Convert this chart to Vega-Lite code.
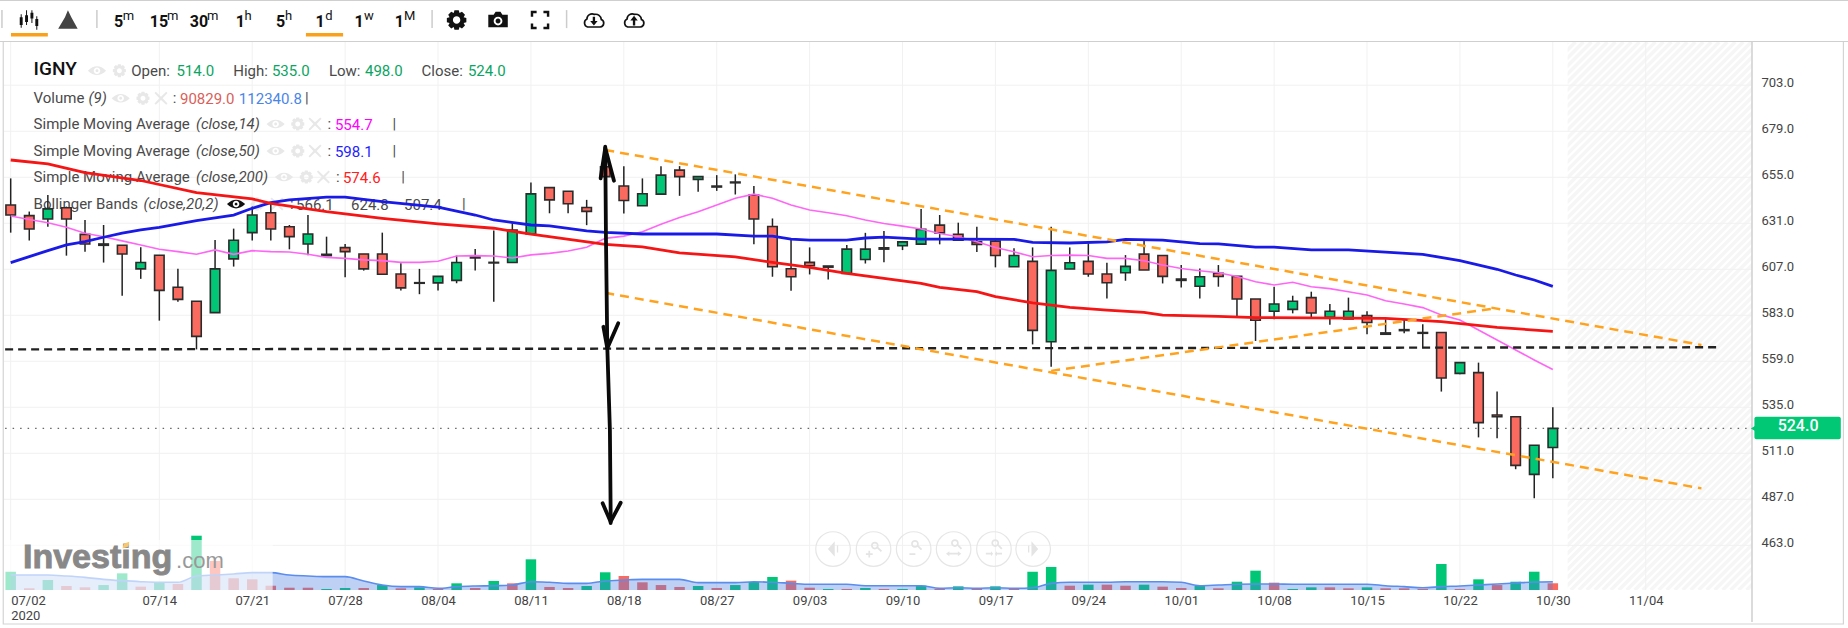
{
  "$schema": "https://vega.github.io/schema/vega-lite/v6.json",
  "width": 1748,
  "height": 548,
  "autosize": {"type": "none"},
  "padding": {"left": 4, "top": 42, "right": 96, "bottom": 38},
  "background": "#ffffff",
  "config": {
    "view": {"stroke": null},
    "legend": {"disable": true},
    "text": {"font": "Roboto"}
  },
  "resolve": {"scale": {"y": "independent"}},
  "datasets": {
    "candles": [
      {"i":0,"o":640.5,"h":654.4,"l":626.1,"c":635.3,"dir":"down"},
      {"i":1,"o":635,"h":637.1,"l":622,"c":628,"dir":"down"},
      {"i":2,"o":633.2,"h":645.8,"l":629.2,"c":638.5,"dir":"up"},
      {"i":3,"o":639.1,"h":639.7,"l":614.1,"c":633.2,"dir":"down"},
      {"i":4,"o":625.2,"h":632.7,"l":616.2,"c":620.2,"dir":"down"},
      {"i":5,"o":620.2,"h":630.1,"l":610.5,"c":619.5,"dir":"down"},
      {"i":6,"o":619.5,"h":619.5,"l":593.2,"c":615,"dir":"down"},
      {"i":7,"o":607.2,"h":618.5,"l":602,"c":610.5,"dir":"up"},
      {"i":8,"o":614.3,"h":614.3,"l":580.2,"c":596,"dir":"down"},
      {"i":9,"o":597.6,"h":607.3,"l":590,"c":591.3,"dir":"down"},
      {"i":10,"o":590.3,"h":590.3,"l":565.2,"c":572,"dir":"down"},
      {"i":11,"o":584.4,"h":622.3,"l":584.4,"c":607.2,"dir":"up"},
      {"i":12,"o":612.4,"h":628.2,"l":608.4,"c":622.1,"dir":"up"},
      {"i":13,"o":626.1,"h":639.7,"l":622,"c":635.3,"dir":"up"},
      {"i":14,"o":636.5,"h":641.4,"l":622,"c":628,"dir":"down"},
      {"i":15,"o":629.2,"h":630.1,"l":617.4,"c":624,"dir":"down"},
      {"i":16,"o":620.2,"h":635.3,"l":614.3,"c":625.4,"dir":"up"},
      {"i":17,"o":614.8,"h":624,"l":614.1,"c":614.1,"dir":"down"},
      {"i":18,"o":618.3,"h":620.2,"l":602.8,"c":616.2,"dir":"down"},
      {"i":19,"o":615,"h":615,"l":606.3,"c":607.2,"dir":"down"},
      {"i":20,"o":615,"h":626.1,"l":604.4,"c":604.4,"dir":"down"},
      {"i":21,"o":604.5,"h":610.1,"l":595.9,"c":597.3,"dir":"down"},
      {"i":22,"o":600,"h":607.2,"l":594,"c":599.7,"dir":"down"},
      {"i":23,"o":599.9,"h":603.5,"l":595.9,"c":603.3,"dir":"up"},
      {"i":24,"o":601.2,"h":614.1,"l":599.7,"c":610.5,"dir":"up"},
      {"i":25,"o":613.4,"h":617.6,"l":606.3,"c":612.9,"dir":"down"},
      {"i":26,"o":610.6,"h":627.2,"l":590,"c":610.3,"dir":"down"},
      {"i":27,"o":610.5,"h":631,"l":610.5,"c":627.5,"dir":"up"},
      {"i":28,"o":625.4,"h":652.2,"l":625.4,"c":646.3,"dir":"up"},
      {"i":29,"o":649.6,"h":649.6,"l":636.2,"c":643.2,"dir":"down"},
      {"i":30,"o":647.7,"h":647.8,"l":636.2,"c":641.2,"dir":"down"},
      {"i":31,"o":639.2,"h":643.2,"l":630,"c":637.2,"dir":"down"},
      {"i":32,"o":660.5,"h":662.2,"l":652.7,"c":655.3,"dir":"down"},
      {"i":33,"o":650.4,"h":660.8,"l":636.1,"c":642.9,"dir":"down"},
      {"i":34,"o":640.1,"h":654.4,"l":640.1,"c":646.4,"dir":"up"},
      {"i":35,"o":646.2,"h":660.8,"l":646.2,"c":656.1,"dir":"up"},
      {"i":36,"o":658.7,"h":660.8,"l":645.3,"c":655.3,"dir":"down"},
      {"i":37,"o":653.9,"h":655.6,"l":647.4,"c":655.3,"dir":"up"},
      {"i":38,"o":650.4,"h":656.1,"l":647.9,"c":649.9,"dir":"down"},
      {"i":39,"o":652.5,"h":656.5,"l":646,"c":652.1,"dir":"down"},
      {"i":40,"o":645.7,"h":650.4,"l":620,"c":633.2,"dir":"down"},
      {"i":41,"o":629.3,"h":633.5,"l":603.1,"c":608.3,"dir":"down"},
      {"i":42,"o":607.3,"h":623.1,"l":595.8,"c":603.1,"dir":"down"},
      {"i":43,"o":610.6,"h":618.4,"l":604.3,"c":608.8,"dir":"down"},
      {"i":44,"o":608.7,"h":608.7,"l":601.7,"c":608.1,"dir":"down"},
      {"i":45,"o":604.8,"h":619.6,"l":604.8,"c":617.5,"dir":"up"},
      {"i":46,"o":612.1,"h":626,"l":610,"c":617.5,"dir":"up"},
      {"i":47,"o":618.2,"h":626.9,"l":610.7,"c":617.5,"dir":"down"},
      {"i":48,"o":619.3,"h":621.7,"l":617,"c":621.3,"dir":"up"},
      {"i":49,"o":620.1,"h":638.4,"l":620.1,"c":627.8,"dir":"up"},
      {"i":50,"o":630,"h":635.3,"l":620,"c":626,"dir":"down"},
      {"i":51,"o":625.3,"h":631.3,"l":622.2,"c":622.2,"dir":"down"},
      {"i":52,"o":621.3,"h":629.2,"l":616,"c":620,"dir":"down"},
      {"i":53,"o":621.7,"h":623.1,"l":608,"c":614.2,"dir":"down"},
      {"i":54,"o":608.3,"h":617.9,"l":608.3,"c":614.2,"dir":"up"},
      {"i":55,"o":611.1,"h":618.4,"l":567.8,"c":575.1,"dir":"down"},
      {"i":56,"o":569.2,"h":629.2,"l":556.1,"c":606.4,"dir":"up"},
      {"i":57,"o":607.1,"h":618.4,"l":607.1,"c":610.4,"dir":"up"},
      {"i":58,"o":611.1,"h":620.5,"l":603.1,"c":604.5,"dir":"down"},
      {"i":59,"o":604.5,"h":610.4,"l":591.8,"c":600,"dir":"down"},
      {"i":60,"o":605.2,"h":614.4,"l":601,"c":608.5,"dir":"up"},
      {"i":61,"o":614.9,"h":622.2,"l":606.6,"c":606.6,"dir":"down"},
      {"i":62,"o":614.2,"h":614.4,"l":599.6,"c":603.3,"dir":"down"},
      {"i":63,"o":601.9,"h":609.2,"l":597.5,"c":601.2,"dir":"down"},
      {"i":64,"o":598.1,"h":607.4,"l":591.8,"c":603.1,"dir":"up"},
      {"i":65,"o":604.9,"h":609.2,"l":597.9,"c":603.2,"dir":"down"},
      {"i":66,"o":603.3,"h":603.3,"l":582.6,"c":591.5,"dir":"down"},
      {"i":67,"o":591.5,"h":591.5,"l":569.6,"c":580.4,"dir":"down"},
      {"i":68,"o":585.1,"h":597.9,"l":580.9,"c":588.9,"dir":"up"},
      {"i":69,"o":586.1,"h":593.2,"l":584,"c":590.3,"dir":"up"},
      {"i":70,"o":592.2,"h":595.3,"l":582,"c":584.2,"dir":"down"},
      {"i":71,"o":581.9,"h":588.9,"l":578,"c":585.1,"dir":"up"},
      {"i":72,"o":581.1,"h":592.2,"l":581.1,"c":585.1,"dir":"up"},
      {"i":73,"o":582.8,"h":585.1,"l":573.1,"c":579.2,"dir":"down"},
      {"i":74,"o":573.8,"h":580.9,"l":573.1,"c":573.1,"dir":"down"},
      {"i":75,"o":575.5,"h":580.5,"l":573.6,"c":575,"dir":"down"},
      {"i":76,"o":574,"h":578.3,"l":565.8,"c":573.6,"dir":"down"},
      {"i":77,"o":574,"h":574,"l":543.2,"c":550.3,"dir":"down"},
      {"i":78,"o":552.7,"h":558.3,"l":552.2,"c":558.3,"dir":"up"},
      {"i":79,"o":553.1,"h":558.3,"l":519.3,"c":527,"dir":"down"},
      {"i":80,"o":531,"h":543.2,"l":518.8,"c":530.1,"dir":"down"},
      {"i":81,"o":530.1,"h":530.1,"l":502.7,"c":504.7,"dir":"down"},
      {"i":82,"o":500,"h":515.3,"l":487.5,"c":515.2,"dir":"up"},
      {"i":83,"o":514,"h":535,"l":498,"c":524,"dir":"up"}
    ],
    "volume": [
      {"i":0,"vol":247,"vma":202,"dir":"up"},{"i":1,"vol":23,"vma":202,"dir":"down"},{"i":2,"vol":135,"vma":202,"dir":"up"},{"i":3,"vol":54,"vma":189,"dir":"down"},
      {"i":4,"vol":36,"vma":171,"dir":"down"},{"i":5,"vol":67,"vma":144,"dir":"up"},{"i":6,"vol":225,"vma":126,"dir":"up"},{"i":7,"vol":45,"vma":112,"dir":"down"},
      {"i":8,"vol":104,"vma":104,"dir":"up"},{"i":9,"vol":81,"vma":104,"dir":"down"},{"i":10,"vol":733,"vma":189,"dir":"up"},{"i":11,"vol":392,"vma":202,"dir":"down"},
      {"i":12,"vol":158,"vma":216,"dir":"down"},{"i":13,"vol":144,"vma":234,"dir":"down"},{"i":14,"vol":58,"vma":234,"dir":"down"},{"i":15,"vol":31,"vma":202,"dir":"down"},
      {"i":16,"vol":31,"vma":189,"dir":"down"},{"i":17,"vol":14,"vma":180,"dir":"up"},{"i":18,"vol":27,"vma":180,"dir":"up"},{"i":19,"vol":27,"vma":122,"dir":"down"},
      {"i":20,"vol":67,"vma":67,"dir":"up"},{"i":21,"vol":23,"vma":45,"dir":"down"},{"i":22,"vol":36,"vma":45,"dir":"up"},{"i":23,"vol":14,"vma":23,"dir":"down"},
      {"i":24,"vol":90,"vma":45,"dir":"up"},{"i":25,"vol":27,"vma":54,"dir":"down"},{"i":26,"vol":122,"vma":58,"dir":"up"},{"i":27,"vol":90,"vma":67,"dir":"down"},
      {"i":28,"vol":414,"vma":112,"dir":"up"},{"i":29,"vol":41,"vma":104,"dir":"down"},{"i":30,"vol":27,"vma":90,"dir":"down"},{"i":31,"vol":54,"vma":90,"dir":"up"},
      {"i":32,"vol":239,"vma":122,"dir":"up"},{"i":33,"vol":189,"vma":135,"dir":"down"},{"i":34,"vol":104,"vma":144,"dir":"down"},{"i":35,"vol":67,"vma":144,"dir":"down"},
      {"i":36,"vol":41,"vma":144,"dir":"down"},{"i":37,"vol":54,"vma":99,"dir":"up"},{"i":38,"vol":27,"vma":99,"dir":"down"},{"i":39,"vol":67,"vma":99,"dir":"up"},
      {"i":40,"vol":108,"vma":112,"dir":"up"},{"i":41,"vol":176,"vma":104,"dir":"up"},{"i":42,"vol":126,"vma":90,"dir":"down"},{"i":43,"vol":31,"vma":77,"dir":"down"},
      {"i":44,"vol":14,"vma":77,"dir":"up"},{"i":45,"vol":14,"vma":77,"dir":"down"},{"i":46,"vol":27,"vma":58,"dir":"up"},{"i":47,"vol":14,"vma":58,"dir":"down"},
      {"i":48,"vol":14,"vma":58,"dir":"up"},{"i":49,"vol":58,"vma":58,"dir":"up"},{"i":50,"vol":14,"vma":23,"dir":"down"},{"i":51,"vol":50,"vma":31,"dir":"up"},
      {"i":52,"vol":23,"vma":23,"dir":"down"},{"i":53,"vol":50,"vma":31,"dir":"up"},{"i":54,"vol":14,"vma":23,"dir":"down"},{"i":55,"vol":247,"vma":31,"dir":"up"},
      {"i":56,"vol":311,"vma":90,"dir":"up"},{"i":57,"vol":58,"vma":104,"dir":"down"},{"i":58,"vol":72,"vma":104,"dir":"up"},{"i":59,"vol":72,"vma":104,"dir":"down"},
      {"i":60,"vol":58,"vma":112,"dir":"down"},{"i":61,"vol":72,"vma":112,"dir":"up"},{"i":62,"vol":45,"vma":112,"dir":"down"},{"i":63,"vol":27,"vma":104,"dir":"down"},
      {"i":64,"vol":54,"vma":58,"dir":"up"},{"i":65,"vol":23,"vma":67,"dir":"down"},{"i":66,"vol":112,"vma":77,"dir":"up"},{"i":67,"vol":261,"vma":81,"dir":"up"},
      {"i":68,"vol":99,"vma":81,"dir":"down"},{"i":69,"vol":14,"vma":77,"dir":"up"},{"i":70,"vol":36,"vma":77,"dir":"up"},{"i":71,"vol":36,"vma":77,"dir":"down"},
      {"i":72,"vol":23,"vma":77,"dir":"down"},{"i":73,"vol":36,"vma":77,"dir":"up"},{"i":74,"vol":23,"vma":58,"dir":"down"},{"i":75,"vol":23,"vma":45,"dir":"down"},
      {"i":76,"vol":14,"vma":31,"dir":"down"},{"i":77,"vol":351,"vma":45,"dir":"up"},{"i":78,"vol":14,"vma":54,"dir":"down"},{"i":79,"vol":144,"vma":67,"dir":"up"},
      {"i":80,"vol":67,"vma":81,"dir":"down"},{"i":81,"vol":112,"vma":95,"dir":"up"},{"i":82,"vol":247,"vma":108,"dir":"up"},{"i":83,"vol":90.8,"vma":112.3,"dir":"down"}
    ],
    "sma14": [
      {"i":0,"p":634.8},{"i":1,"p":633},{"i":2,"p":631.3},{"i":3,"p":628.9},{"i":4,"p":625.8},{"i":5,"p":624},{"i":6,"p":621.8},{"i":7,"p":619.7},{"i":8,"p":617.4},{"i":9,"p":616.2},{"i":10,"p":614.8},{"i":11,"p":617.1},{"i":12,"p":614.8},{"i":13,"p":616.7},{"i":14,"p":616.2},{"i":15,"p":616},{"i":16,"p":614.8},{"i":17,"p":613.2},{"i":18,"p":612.7},{"i":19,"p":611.9},{"i":20,"p":611.5},{"i":21,"p":610.6},{"i":22,"p":610.6},{"i":23,"p":611.2},{"i":24,"p":613.9},{"i":25,"p":614.1},{"i":26,"p":613.9},{"i":27,"p":612.9},{"i":28,"p":614.5},{"i":29,"p":615.3},{"i":30,"p":616.5},{"i":31,"p":618.5},{"i":32,"p":623.1},{"i":33,"p":624.3},{"i":34,"p":626.6},{"i":35,"p":630.5},{"i":36,"p":634},{"i":37,"p":637},{"i":38,"p":640.5},{"i":39,"p":644},{"i":40,"p":646.2},{"i":41,"p":644},{"i":42,"p":640.5},{"i":43,"p":637.9},{"i":44,"p":636.5},{"i":45,"p":634.9},{"i":46,"p":632.7},{"i":47,"p":630.9},{"i":48,"p":629.5},{"i":49,"p":628},{"i":50,"p":625.7},{"i":51,"p":624},{"i":52,"p":621.4},{"i":53,"p":618.4},{"i":54,"p":616.1},{"i":55,"p":613.5},{"i":56,"p":614.2},{"i":57,"p":614.4},{"i":58,"p":614.2},{"i":59,"p":612.7},{"i":60,"p":612.7},{"i":61,"p":611.4},{"i":62,"p":609.2},{"i":63,"p":607.4},{"i":64,"p":606.2},{"i":65,"p":605.2},{"i":66,"p":603.2},{"i":67,"p":600.5},{"i":68,"p":598.8},{"i":69,"p":600.2},{"i":70,"p":597.9},{"i":71,"p":596.9},{"i":72,"p":595.3},{"i":73,"p":593.6},{"i":74,"p":590.6},{"i":75,"p":588.9},{"i":76,"p":587},{"i":77,"p":583.2},{"i":78,"p":580.5},{"i":79,"p":575.3},{"i":80,"p":570.1},{"i":81,"p":564.9},{"i":82,"p":559.7},{"i":83,"p":554.7}
    ],
    "sma50": [
      {"i":0,"p":610.5},{"i":1,"p":613.6},{"i":2,"p":616.7},{"i":3,"p":619.7},{"i":4,"p":621.4},{"i":5,"p":623.7},{"i":6,"p":625.8},{"i":7,"p":627.5},{"i":8,"p":628.9},{"i":10,"p":632.4},{"i":12,"p":635.3},{"i":13,"p":638.8},{"i":14,"p":641.8},{"i":15,"p":643.2},{"i":17,"p":644.6},{"i":18,"p":644.6},{"i":20,"p":642.3},{"i":23,"p":639.4},{"i":25,"p":635.3},{"i":26,"p":632.7},{"i":28,"p":630.1},{"i":29,"p":629.6},{"i":31,"p":627},{"i":32,"p":626.2},{"i":34,"p":625.4},{"i":38,"p":625.4},{"i":40,"p":624.3},{"i":41,"p":624.3},{"i":42,"p":622.7},{"i":43,"p":622.2},{"i":45,"p":622.2},{"i":46,"p":623.3},{"i":47,"p":623.8},{"i":49,"p":622.7},{"i":51,"p":622.7},{"i":54,"p":622.6},{"i":55,"p":621},{"i":57,"p":620.7},{"i":59,"p":621.3},{"i":60,"p":622.6},{"i":62,"p":622.2},{"i":64,"p":620.4},{"i":65,"p":620.2},{"i":67,"p":618.5},{"i":68,"p":618.5},{"i":70,"p":617.1},{"i":72,"p":617.1},{"i":74,"p":615.9},{"i":76,"p":614.8},{"i":78,"p":611.5},{"i":80,"p":607},{"i":81,"p":604},{"i":82,"p":601.4},{"i":83,"p":598.1}
    ],
    "sma200": [
      {"i":0,"p":664},{"i":2,"p":662},{"i":4,"p":657.4},{"i":7,"p":653.3},{"i":10,"p":647},{"i":13,"p":643.7},{"i":14,"p":641.4},{"i":17,"p":637.1},{"i":20,"p":633.6},{"i":23,"p":630.7},{"i":26,"p":628.4},{"i":28,"p":625.3},{"i":32,"p":620},{"i":34,"p":618.7},{"i":36,"p":615.6},{"i":39,"p":613.5},{"i":41,"p":610.6},{"i":43,"p":608},{"i":45,"p":604.8},{"i":49,"p":599.6},{"i":50,"p":597.5},{"i":52,"p":595.3},{"i":53,"p":592.7},{"i":55,"p":589.5},{"i":57,"p":587.1},{"i":59,"p":585.7},{"i":61,"p":584.5},{"i":62,"p":583.1},{"i":65,"p":582.4},{"i":67,"p":581.8},{"i":74,"p":581.4},{"i":77,"p":579.7},{"i":80,"p":576.7},{"i":83,"p":574.6}
    ],
    "channels": [
      {"seg":"upper","i":32,"p":669.2},{"seg":"upper","i":91,"p":567.5},
      {"seg":"lower","i":32,"p":594.7},{"seg":"lower","i":91,"p":492.7},
      {"seg":"rising","i":56,"p":554},{"seg":"rising","i":79.9,"p":586.6}
    ],
    "support": [{"i":-0.3,"p":565.2},{"i":92,"p":566.3}],
    "arrow": [
      {"seg":"shaft","n":0,"i":32,"p":670.9},{"seg":"shaft","n":1,"i":32.04,"p":622.3},{"seg":"shaft","n":2,"i":32.11,"p":566.6},{"seg":"shaft","n":3,"i":32.25,"p":523.2},{"seg":"shaft","n":4,"i":32.29,"p":481.4},{"seg":"shaft","n":5,"i":32.29,"p":474.6},
      {"seg":"top","n":0,"i":31.75,"p":654.4},{"seg":"top","n":1,"i":32,"p":670.3},{"seg":"top","n":2,"i":32.47,"p":653.2},
      {"seg":"mid","n":0,"i":31.9,"p":577},{"seg":"mid","n":1,"i":32.11,"p":565.8},{"seg":"mid","n":2,"i":32.7,"p":578.8},
      {"seg":"bottom","n":0,"i":31.86,"p":484.9},{"seg":"bottom","n":1,"i":32.29,"p":475.3},{"seg":"bottom","n":2,"i":32.83,"p":485.2}
    ],
    "hgrid": [{"p":463},{"p":487},{"p":511},{"p":535},{"p":559},{"p":583},{"p":607},{"p":631},{"p":655},{"p":679},{"p":703}],
    "vgrid": [{"i":0},{"i":8},{"i":13},{"i":18},{"i":23},{"i":28},{"i":33},{"i":38},{"i":43},{"i":48},{"i":53},{"i":58},{"i":63},{"i":68},{"i":73},{"i":78},{"i":83},{"i":88}],
    "hatch": [
      {"a":54.3,"b":83.79},{"a":54.73,"b":84.22},{"a":55.16,"b":84.65},{"a":55.59,"b":85.08},{"a":56.02,"b":85.51},{"a":56.45,"b":85.94},{"a":56.88,"b":86.37},{"a":57.31,"b":86.8},{"a":57.74,"b":87.23},{"a":58.17,"b":87.66},
      {"a":58.6,"b":88.09},{"a":59.03,"b":88.52},{"a":59.46,"b":88.95},{"a":59.89,"b":89.38},{"a":60.32,"b":89.81},{"a":60.75,"b":90.24},{"a":61.18,"b":90.67},{"a":61.61,"b":91.1},{"a":62.04,"b":91.53},{"a":62.47,"b":91.96},
      {"a":62.9,"b":92.39},{"a":63.33,"b":92.82},{"a":63.76,"b":93.25},{"a":64.19,"b":93.68},{"a":64.62,"b":94.11},{"a":65.05,"b":94.54},{"a":65.48,"b":94.97},{"a":65.91,"b":95.4},{"a":66.34,"b":95.83},{"a":66.77,"b":96.26},
      {"a":67.2,"b":96.69},{"a":67.63,"b":97.12},{"a":68.06,"b":97.55},{"a":68.49,"b":97.98},{"a":68.92,"b":98.41},{"a":69.35,"b":98.84},{"a":69.78,"b":99.27},{"a":70.21,"b":99.7},{"a":70.64,"b":100.13},{"a":71.07,"b":100.56},
      {"a":71.5,"b":100.99},{"a":71.93,"b":101.42},{"a":72.36,"b":101.85},{"a":72.79,"b":102.28},{"a":73.22,"b":102.71},{"a":73.65,"b":103.14},{"a":74.08,"b":103.57},{"a":74.51,"b":104},{"a":74.94,"b":104.43},{"a":75.37,"b":104.86},
      {"a":75.8,"b":105.29},{"a":76.23,"b":105.72},{"a":76.66,"b":106.15},{"a":77.09,"b":106.58},{"a":77.52,"b":107.01},{"a":77.95,"b":107.44},{"a":78.38,"b":107.87},{"a":78.81,"b":108.3},{"a":79.24,"b":108.73},{"a":79.67,"b":109.16},
      {"a":80.1,"b":109.59},{"a":80.53,"b":110.02},{"a":80.96,"b":110.45},{"a":81.39,"b":110.88},{"a":81.82,"b":111.31},{"a":82.25,"b":111.74},{"a":82.68,"b":112.17},{"a":83.11,"b":112.6},{"a":83.54,"b":113.03},{"a":83.97,"b":113.46},
      {"a":84.4,"b":113.89},{"a":84.83,"b":114.32},{"a":85.26,"b":114.75},{"a":85.69,"b":115.18},{"a":86.12,"b":115.61},{"a":86.55,"b":116.04},{"a":86.98,"b":116.47},{"a":87.41,"b":116.9},{"a":87.84,"b":117.33},{"a":88.27,"b":117.76},
      {"a":88.7,"b":118.19},{"a":89.13,"b":118.62},{"a":89.56,"b":119.05},{"a":89.99,"b":119.48},{"a":90.42,"b":119.91},{"a":90.85,"b":120.34},{"a":91.28,"b":120.77},{"a":91.71,"b":121.2},{"a":92.14,"b":121.63},{"a":92.57,"b":122.06},{"a":93,"b":122.49},{"a":93.43,"b":122.92}
    ],
    "labels": [
      {"t":"Open:","at":6.49,"lv":710.6,"tone":"ink"},{"t":"514.0","at":8.92,"lv":710.6,"tone":"quote"},
      {"t":"High:","at":11.98,"lv":710.6,"tone":"ink"},{"t":"535.0","at":14.06,"lv":710.6,"tone":"quote"},
      {"t":"Low:","at":17.13,"lv":710.6,"tone":"ink"},{"t":"498.0","at":19.07,"lv":710.6,"tone":"quote"},
      {"t":"Close:","at":22.11,"lv":710.6,"tone":"ink"},{"t":"524.0","at":24.61,"lv":710.6,"tone":"quote"},
      {"t":"Volume","at":1.233,"lv":696.2,"tone":"ink"},{"t":":","at":8.72,"lv":696.2,"tone":"ink"},
      {"t":"90829.0","at":9.11,"lv":696,"tone":"volval"},{"t":"112340.8","at":12.28,"lv":696,"tone":"volma"},{"t":"|","at":15.84,"lv":696.2,"tone":"ink"},
      {"t":"Simple Moving Average","at":1.233,"lv":682.8,"tone":"ink"},{"t":":","at":17.05,"lv":682.8,"tone":"ink"},
      {"t":"554.7","at":17.45,"lv":682,"tone":"s14"},{"t":"|","at":20.55,"lv":682.8,"tone":"ink"},
      {"t":"Simple Moving Average","at":1.233,"lv":668.7,"tone":"ink"},{"t":":","at":17.05,"lv":668.7,"tone":"ink"},
      {"t":"598.1","at":17.45,"lv":668.2,"tone":"s50"},{"t":"|","at":20.55,"lv":668.7,"tone":"ink"},
      {"t":"Simple Moving Average","at":1.233,"lv":655.1,"tone":"ink"},{"t":":","at":17.51,"lv":655.1,"tone":"ink"},
      {"t":"574.6","at":17.88,"lv":654.6,"tone":"s200"},{"t":"|","at":21.02,"lv":655.1,"tone":"ink"},
      {"t":"Bollinger Bands","at":1.233,"lv":641,"tone":"ink"},{"t":":","at":15.03,"lv":641,"tone":"ink"},
      {"t":"566.1","at":15.36,"lv":640.4,"tone":"ink"},{"t":"624.8","at":18.32,"lv":640.4,"tone":"ink"},{"t":"507.4","at":21.17,"lv":640.4,"tone":"ink"},{"t":"|","at":24.29,"lv":641,"tone":"ink"}
    ],
    "italics": [
      {"t":"(9)","at":4.19,"lv":696.2},{"t":"(close,14)","at":9.97,"lv":682.8},{"t":"(close,50)","at":9.97,"lv":668.7},{"t":"(close,200)","at":9.97,"lv":655.1},{"t":"(close,20,2)","at":7.15,"lv":641}
    ],
    "menu": [
      {"t":"5","at":5.81},{"t":"15","at":7.98},{"t":"30","at":10.13},{"t":"1","at":12.36},{"t":"5","at":14.53},{"t":"1","at":16.65},{"t":"1","at":18.75},{"t":"1","at":20.92}
    ],
    "menuUnits": [
      {"t":"m","at":6.34},{"t":"m","at":8.72},{"t":"m","at":10.87},{"t":"h","at":12.77},{"t":"h","at":14.96},{"t":"d","at":17.13},{"t":"w","at":19.28},{"t":"M","at":21.47}
    ],
    "menuIcons": [
      {"icon":"candles","at":0.985,"tone":"dark"},{"icon":"mountain","at":3.08,"tone":"slate"},{"icon":"gear","at":24,"tone":"dark"},{"icon":"camera","at":26.23,"tone":"dark"},{"icon":"expand","at":28.49,"tone":"dark"},{"icon":"arrowdown","at":31.39,"tone":"dark"},{"icon":"arrowup","at":33.55,"tone":"dark"}
    ],
    "legendIcons": [
      {"icon":"eye","at":4.645,"lv":710.6,"tone":"faint"},{"icon":"gear","at":5.85,"lv":710.6,"tone":"faint"},
      {"icon":"eye","at":5.92,"lv":696.2,"tone":"faint"},{"icon":"gear","at":7.12,"lv":696.2,"tone":"faint"},{"icon":"close","at":8.09,"lv":696.2,"tone":"faint"},
      {"icon":"eye","at":14.26,"lv":682.8,"tone":"faint"},{"icon":"gear","at":15.45,"lv":682.8,"tone":"faint"},{"icon":"close","at":16.38,"lv":682.8,"tone":"faint"},
      {"icon":"eye","at":14.26,"lv":668.7,"tone":"faint"},{"icon":"gear","at":15.45,"lv":668.7,"tone":"faint"},{"icon":"close","at":16.38,"lv":668.7,"tone":"faint"},
      {"icon":"eye","at":14.71,"lv":655.1,"tone":"faint"},{"icon":"gear","at":15.91,"lv":655.1,"tone":"faint"},{"icon":"close","at":16.83,"lv":655.1,"tone":"faint"},
      {"icon":"eye","at":12.13,"lv":641,"tone":"dark"},{"icon":"gear","at":13.26,"lv":641,"tone":"faint"},{"icon":"close","at":14.33,"lv":641,"tone":"faint"}
    ],
    "navIcons": [
      {"icon":"navleft","at":44.26},{"icon":"zoomin","at":46.44},{"icon":"zoomout","at":48.6},{"icon":"panout","at":50.75},{"icon":"panin","at":52.92},{"icon":"navright","at":55.03}
    ]
  },
  "layer": [
    {
      "layer": [
        {
          "data": {"name": "hatch"},
          "mark": {"type": "rule", "color": "#f6f6f6", "strokeWidth": 3.5, "clip": true},
          "encoding": {
            "x": {"field": "a", "type": "quantitative", "scale": {"domain": [-0.36, 93.72], "nice": false, "zero": false, "padding": 0}, "axis": {
              "title": null, "domain": false, "ticks": false, "grid": false, "labelFont": "Roboto", "labelFontSize": 13, "labelColor": "#444444", "labelPadding": 4, "labelOverlap": false, "labelFlush": false,
              "values": [0,8,13,18,23,28,33,38,43,48,53,58,63,68,73,78,83,88],
              "labelAlign": {"condition": {"test": "datum.value == 0", "value": "left"}, "value": "center"},
              "labelExpr": "datum.value == 0 ? ['07/02', '2020'] : ['', '07/14', '07/21', '07/28', '08/04', '08/11', '08/18', '08/27', '09/03', '09/10', '09/17', '09/24', '10/01', '10/08', '10/15', '10/22', '10/30', '11/04'][indexof([0,8,13,18,23,28,33,38,43,48,53,58,63,68,73,78,83,88], datum.value)]"
            }},
            "x2": {"field": "b"},
            "y": {"datum": 439.69, "type": "quantitative", "scale": {"domain": [439.69, 725.55], "nice": false, "zero": false}, "axis": {
              "title": null, "orient": "right", "domain": false, "ticks": false, "grid": false, "labelFont": "Roboto", "labelFontSize": 13, "labelColor": "#444444", "labelPadding": 9, "labelOffset": -3, "labelFlush": false, "labelOverlap": false,
              "values": [463,487,511,535,559,583,607,631,655,679,703], "format": ".1f"
            }},
            "y2": {"datum": 725.55}
          }
        },
        {
          "data": {"values": [{"a": -0.36, "b": 83.8}]},
          "mark": {"type": "rect", "color": "#ffffff"},
          "encoding": {"x": {"field": "a", "type": "quantitative"}, "x2": {"field": "b"}}
        },
        {
          "data": {"name": "hgrid"},
          "mark": {"type": "rule", "color": "#f1f1f1", "strokeWidth": 1},
          "encoding": {"y": {"field": "p", "type": "quantitative"}}
        },
        {
          "data": {"name": "vgrid"},
          "mark": {"type": "rule", "color": "#f1f1f1", "strokeWidth": 1},
          "encoding": {"x": {"field": "i", "type": "quantitative"}}
        },
        {
          "data": {"values": [{"a": -0.4, "b": 98.64, "lo": 421.95, "hi": 725.8}]},
          "mark": {"type": "rect", "filled": false, "stroke": "#d4d4d4", "strokeWidth": 1.2},
          "encoding": {"x": {"field": "a", "type": "quantitative"}, "x2": {"field": "b"}, "y": {"field": "lo", "type": "quantitative"}, "y2": {"field": "hi"}}
        },
        {
          "data": {"values": [{"a": 93.72, "lo": 423, "hi": 725.8}]},
          "mark": {"type": "rule", "color": "#cfcfcf", "strokeWidth": 1.5},
          "encoding": {"x": {"field": "a", "type": "quantitative"}, "y": {"field": "lo", "type": "quantitative"}, "y2": {"field": "hi"}}
        },
        {
          "data": {"values": [{"a": -0.58, "b": 98.9, "p": 747.2}, {"a": -0.58, "b": 98.9, "p": 725.8}]},
          "mark": {"type": "rule", "color": "#cfcfcf", "strokeWidth": 1.2},
          "encoding": {"x": {"field": "a", "type": "quantitative"}, "x2": {"field": "b"}, "y": {"field": "p", "type": "quantitative"}}
        },
        {
          "data": {"values": [{"a": -0.47}, {"a": 4.64}, {"a": 22.68}, {"a": 29.92}]},
          "mark": {"type": "rule", "color": "#cccccc", "strokeWidth": 1.5},
          "encoding": {"x": {"field": "a", "type": "quantitative"}, "y": {"datum": 732.8}, "y2": {"datum": 742.2}}
        },
        {
          "data": {"values": [{"a": 0.016, "b": 2}, {"a": 15.89, "b": 17.89}]},
          "mark": {"type": "rect", "color": "#f9a11b"},
          "encoding": {"x": {"field": "a", "type": "quantitative"}, "x2": {"field": "b"}, "y": {"datum": 728.4}, "y2": {"datum": 730.2}}
        },
        {
          "data": {"name": "menu"},
          "mark": {"type": "text", "font": "Roboto", "fontSize": 16, "fontWeight": "bold", "color": "#111111", "align": "center", "baseline": "middle"},
          "encoding": {"x": {"field": "at", "type": "quantitative"}, "y": {"datum": 736}, "text": {"field": "t"}}
        },
        {
          "data": {"name": "menuUnits"},
          "mark": {"type": "text", "font": "Roboto", "fontSize": 13, "color": "#111111", "align": "center", "baseline": "middle"},
          "encoding": {"x": {"field": "at", "type": "quantitative"}, "y": {"datum": 739}, "text": {"field": "t"}}
        },
        {
          "data": {"name": "menuIcons"},
          "mark": {"type": "point", "filled": true, "size": 380, "opacity": 1},
          "encoding": {
            "x": {"field": "at", "type": "quantitative"},
            "y": {"datum": 737},
            "shape": {"field": "icon", "type": "nominal", "scale": {
              "domain": ["candles", "mountain", "gear", "camera", "expand", "arrowdown", "arrowup", "eye", "close", "navleft", "navright", "zoomin", "zoomout", "panout", "panin"],
              "range": [
                "M-.95,-.3 L-.65,-.3 L-.65,.5 L-.95,.5 Z M-.85,-.6 L-.75,-.6 L-.75,.8 L-.85,.8 Z M-.4,-.5 L-.1,-.5 L-.1,.2 L-.4,.2 Z M-.3,-1 L-.2,-1 L-.2,.5 L-.3,.5 Z M.15,-.75 L.45,-.75 L.45,-.15 L.15,-.15 Z M.25,-1 L.35,-1 L.35,.3 L.25,.3 Z M.65,-.1 L.95,-.1 L.95,.6 L.65,.6 Z M.75,-.4 L.85,-.4 L.85,1 L.75,1 Z",
                "M-1,.9 L-.3,-.3 L0,-1 L.35,-.3 L1,.9 Z",
                "M-.22,-1 L.22,-1 L.3,-.72 L.55,-.86 L.86,-.55 L.72,-.3 L1,-.22 L1,.22 L.72,.3 L.86,.55 L.55,.86 L.3,.72 L.22,1 L-.22,1 L-.3,.72 L-.55,.86 L-.86,.55 L-.72,.3 L-1,.22 L-1,-.22 L-.72,-.3 L-.86,-.55 L-.55,-.86 L-.3,-.72 Z M.38,0 A.38,.38 0 1 0 -.38,0 A.38,.38 0 1 0 .38,0 Z",
                "M-1,-.55 L-.45,-.55 L-.25,-.85 L.25,-.85 L.45,-.55 L1,-.55 L1,.75 L-1,.75 Z M.45,.1 A.45,.45 0 1 0 -.45,.1 A.45,.45 0 1 0 .45,.1 Z M-.25,.1 A.25,.25 0 1 0 .25,.1 A.25,.25 0 1 0 -.25,.1 Z",
                "M-.95,-.95 L-.35,-.95 L-.35,-.7 L-.7,-.7 L-.7,-.35 L-.95,-.35 Z M.95,-.95 L.95,-.35 L.7,-.35 L.7,-.7 L.35,-.7 L.35,-.95 Z M.95,.95 L.35,.95 L.35,.7 L.7,.7 L.7,.35 L.95,.35 Z M-.95,.95 L-.95,.35 L-.7,.35 L-.7,.7 L-.35,.7 L-.35,.95 Z",
                "M-.12,-.35 L.12,-.35 L.12,.1 L.38,.1 L0,.55 L-.38,.1 L-.12,.1 Z",
                "M-.12,.55 L.12,.55 L.12,.05 L.38,.05 L0,-.45 L-.38,.05 L-.12,.05 Z",
                "M-1,0 Q0,-.95 1,0 Q0,.95 -1,0 Z M.36,0 A.36,.36 0 1 0 -.36,0 A.36,.36 0 1 0 .36,0 Z M-.16,0 A.16,.16 0 1 0 .16,0 A.16,.16 0 1 0 -.16,0 Z",
                "M-.8,-1 L0,-.25 L.8,-1 L1,-.8 L.25,0 L1,.8 L.8,1 L0,.25 L-.8,1 L-1,.8 L-.25,0 L-1,-.8 Z",
                "M.2,-.9 L.2,.9 L-.6,0 Z M.45,-.4 L.6,-.4 L.6,.4 L.45,.4 Z",
                "M-.2,-.9 L-.2,.9 L.6,0 Z M-.45,-.4 L-.6,-.4 L-.6,.4 L-.45,.4 Z",
                "M-.3,-.4 A.45,.45 0 1 1 .6,-.4 A.45,.45 0 1 1 -.3,-.4 Z M-.1,-.4 A.25,.25 0 1 0 .4,-.4 A.25,.25 0 1 0 -.1,-.4 Z M.4,-.1 L.55,-.25 L1,.2 L.85,.35 Z M-.6,.2 L-.4,.2 L-.4,.5 L-.1,.5 L-.1,.7 L-.4,.7 L-.4,1 L-.6,1 L-.6,.7 L-.9,.7 L-.9,.5 L-.6,.5 Z",
                "M-.3,-.6 A.45,.45 0 1 1 .6,-.6 A.45,.45 0 1 1 -.3,-.6 Z M-.1,-.6 A.25,.25 0 1 0 .4,-.6 A.25,.25 0 1 0 -.1,-.6 Z M.4,-.3 L.55,-.45 L1,0 L.85,.15 Z M-.5,.5 L.2,.5 L.2,.7 L-.5,.7 Z",
                "M-.3,-.7 A.45,.45 0 1 1 .6,-.7 A.45,.45 0 1 1 -.3,-.7 Z M-.1,-.7 A.25,.25 0 1 0 .4,-.7 A.25,.25 0 1 0 -.1,-.7 Z M.4,-.4 L.55,-.55 L1,-.1 L.85,.05 Z M-.9,.55 L-.5,.25 L-.5,.45 L.5,.45 L.5,.25 L.9,.55 L.5,.85 L.5,.65 L-.5,.65 L-.5,.85 Z",
                "M-.3,-.7 A.45,.45 0 1 1 .6,-.7 A.45,.45 0 1 1 -.3,-.7 Z M-.1,-.7 A.25,.25 0 1 0 .4,-.7 A.25,.25 0 1 0 -.1,-.7 Z M.4,-.4 L.55,-.55 L1,-.1 L.85,.05 Z M-.95,.45 L-.35,.45 L-.35,.25 L-.1,.55 L-.35,.85 L-.35,.65 L-.95,.65 Z M.95,.45 L.35,.45 L.35,.25 L.1,.55 L.35,.85 L.35,.65 L.95,.65 Z"
              ]
            }},
            "color": {"field": "tone", "type": "nominal", "scale": {
              "domain": ["up", "down", "ink", "dark", "slate", "quote", "volval", "volma", "s14", "s50", "s200", "faint", "nav"],
              "range": ["#00c676", "#fb6a5e", "#4a4a4a", "#111111", "#444444", "#0aa562", "#d9605a", "#4a86e8", "#ff00ff", "#2222ff", "#ff2020", "#e8e8e8", "#e4e4e4"]
            }}
          }
        },
        {
          "data": {"values": [{"at": 31.39}, {"at": 33.55}]},
          "mark": {"type": "point", "filled": false, "color": "#111111", "strokeWidth": 1.7, "opacity": 1, "size": 420, "shape": "M-.62,.68 A.42,.42 0 0 1 -.68,-.1 A.5,.5 0 0 1 .05,-.55 A.55,.55 0 0 1 .72,-.05 A.38,.38 0 0 1 .62,.68 Z"},
          "encoding": {"x": {"field": "at", "type": "quantitative"}, "y": {"datum": 737}}
        },
        {
          "data": {"values": [{"t": "IGNY", "at": 1.233}]},
          "mark": {"type": "text", "font": "Roboto", "fontSize": 19, "fontWeight": 500, "color": "#111111", "align": "left", "baseline": "middle"},
          "encoding": {"x": {"field": "at", "type": "quantitative"}, "y": {"datum": 711.5}, "text": {"field": "t"}}
        },
        {
          "data": {"name": "labels"},
          "mark": {"type": "text", "font": "Roboto", "fontSize": 15, "align": "left", "baseline": "middle"},
          "encoding": {
            "x": {"field": "at", "type": "quantitative"},
            "y": {"field": "lv", "type": "quantitative"},
            "text": {"field": "t"},
            "color": {"field": "tone", "type": "nominal"}
          }
        },
        {
          "data": {"name": "italics"},
          "mark": {"type": "text", "font": "Roboto", "fontSize": 15, "fontStyle": "italic", "color": "#4a4a4a", "align": "left", "baseline": "middle"},
          "encoding": {"x": {"field": "at", "type": "quantitative"}, "y": {"field": "lv", "type": "quantitative"}, "text": {"field": "t"}}
        },
        {
          "data": {"name": "legendIcons"},
          "mark": {"type": "point", "filled": true, "opacity": 1},
          "encoding": {
            "x": {"field": "at", "type": "quantitative"},
            "y": {"field": "lv", "type": "quantitative"},
            "shape": {"field": "icon", "type": "nominal"},
            "size": {"condition": {"test": "datum.icon == 'eye'", "value": 330}, "value": 170},
            "color": {"field": "tone", "type": "nominal"}
          }
        },
        {
          "data": {"name": "navIcons"},
          "mark": {"type": "point", "filled": false, "color": "#e6e6e6", "strokeWidth": 1.2, "opacity": 1, "shape": "circle", "size": 1195},
          "encoding": {"x": {"field": "at", "type": "quantitative"}, "y": {"datum": 461.07}}
        },
        {
          "data": {"name": "navIcons"},
          "mark": {"type": "point", "filled": true, "color": "#e4e4e4", "opacity": 1, "size": 290},
          "encoding": {"x": {"field": "at", "type": "quantitative"}, "y": {"datum": 461.07}, "shape": {"field": "icon", "type": "nominal"}}
        },
        {
          "data": {"values": [{"a": -0.3, "b": 93.7, "p": 524}]},
          "mark": {"type": "rule", "color": "#666666", "strokeWidth": 1.2, "strokeDash": [1.5, 6]},
          "encoding": {"x": {"field": "a", "type": "quantitative"}, "x2": {"field": "b"}, "y": {"field": "p", "type": "quantitative"}}
        },
        {
          "data": {"name": "candles"},
          "mark": {"type": "rule", "color": "#222222", "strokeWidth": 1.5},
          "encoding": {"x": {"field": "i", "type": "quantitative"}, "y": {"field": "h", "type": "quantitative"}, "y2": {"field": "l"}}
        },
        {
          "data": {"name": "candles"},
          "mark": {"type": "bar", "size": 9.5, "stroke": "#2b2b2b", "strokeWidth": 1.6},
          "encoding": {
            "x": {"field": "i", "type": "quantitative"},
            "y": {"field": "o", "type": "quantitative"},
            "y2": {"field": "c"},
            "color": {"field": "dir", "type": "nominal"}
          }
        },
        {
          "data": {"name": "sma14"},
          "mark": {"type": "line", "color": "#ff66f5", "strokeWidth": 1.6},
          "encoding": {"x": {"field": "i", "type": "quantitative"}, "y": {"field": "p", "type": "quantitative"}}
        },
        {
          "data": {"name": "sma50"},
          "mark": {"type": "line", "color": "#1a1ae6", "strokeWidth": 2.8},
          "encoding": {"x": {"field": "i", "type": "quantitative"}, "y": {"field": "p", "type": "quantitative"}}
        },
        {
          "data": {"name": "sma200"},
          "mark": {"type": "line", "color": "#f51515", "strokeWidth": 2.8},
          "encoding": {"x": {"field": "i", "type": "quantitative"}, "y": {"field": "p", "type": "quantitative"}}
        },
        {
          "data": {"name": "support"},
          "mark": {"type": "line", "color": "#222222", "strokeWidth": 2.4, "strokeDash": [8, 5]},
          "encoding": {"x": {"field": "i", "type": "quantitative"}, "y": {"field": "p", "type": "quantitative"}}
        },
        {
          "data": {"name": "channels"},
          "mark": {"type": "line", "color": "#ffa31f", "strokeWidth": 2.5, "strokeDash": [9, 6]},
          "encoding": {"x": {"field": "i", "type": "quantitative"}, "y": {"field": "p", "type": "quantitative"}, "detail": {"field": "seg"}}
        },
        {
          "data": {"name": "arrow"},
          "mark": {"type": "line", "color": "#0a0a0a", "strokeWidth": 3.8, "strokeCap": "round", "strokeJoin": "round"},
          "encoding": {"x": {"field": "i", "type": "quantitative"}, "y": {"field": "p", "type": "quantitative"}, "detail": {"field": "seg"}, "order": {"field": "n"}}
        },
        {
          "data": {"values": [{"a": 93.85, "b": 98.5, "lo": 518.3, "hi": 530.1}]},
          "mark": {"type": "rect", "color": "#00c875", "cornerRadius": 2},
          "encoding": {"x": {"field": "a", "type": "quantitative"}, "x2": {"field": "b"}, "y": {"field": "lo", "type": "quantitative"}, "y2": {"field": "hi"}}
        },
        {
          "data": {"values": [{"a": 93.82, "p": 524}]},
          "mark": {"type": "point", "shape": "triangle-left", "filled": true, "color": "#00c875", "size": 50, "opacity": 1},
          "encoding": {"x": {"field": "a", "type": "quantitative"}, "y": {"field": "p", "type": "quantitative"}}
        },
        {
          "data": {"values": [{"t": "524.0", "a": 96.2, "p": 525}]},
          "mark": {"type": "text", "font": "Roboto", "fontSize": 16, "fontWeight": 500, "color": "#ffffff", "align": "center", "baseline": "middle"},
          "encoding": {"x": {"field": "a", "type": "quantitative"}, "y": {"field": "p", "type": "quantitative"}, "text": {"field": "t"}}
        }
      ]
    },
    {
      "layer": [
        {
          "data": {"name": "volume"},
          "mark": {"type": "bar", "size": 10.5},
          "encoding": {
            "x": {"field": "i", "type": "quantitative"},
            "y": {"field": "vol", "type": "quantitative", "scale": {"domain": [0, 7398], "nice": false}, "axis": null},
            "color": {"field": "dir", "type": "nominal"}
          }
        },
        {
          "data": {"name": "volume"},
          "mark": {"type": "area", "color": "#4a7fe0", "opacity": 0.36, "interpolate": "monotone"},
          "encoding": {"x": {"field": "i", "type": "quantitative"}, "y": {"field": "vma", "type": "quantitative", "axis": null}}
        },
        {
          "data": {"name": "volume"},
          "mark": {"type": "line", "color": "#5b8def", "strokeWidth": 1.6, "interpolate": "monotone"},
          "encoding": {"x": {"field": "i", "type": "quantitative"}, "y": {"field": "vma", "type": "quantitative", "axis": null}}
        },
        {
          "data": {"values": [{"a": -0.36, "b": 14.1, "lo": 0, "hi": 675}]},
          "mark": {"type": "rect", "color": "#ffffff", "opacity": 0.62},
          "encoding": {"x": {"field": "a", "type": "quantitative"}, "x2": {"field": "b"}, "y": {"field": "lo", "type": "quantitative", "axis": null}, "y2": {"field": "hi"}}
        },
        {
          "data": {"values": [{"t": "Investing", "a": 0.66, "h": 297}]},
          "mark": {"type": "text", "font": "Liberation Sans", "fontSize": 34, "fontWeight": "bold", "color": "#888888", "stroke": "#888888", "strokeWidth": 0.9, "align": "left", "baseline": "alphabetic"},
          "encoding": {"x": {"field": "a", "type": "quantitative"}, "y": {"field": "h", "type": "quantitative", "axis": null}, "text": {"field": "t"}}
        },
        {
          "data": {"values": [{"t": ".com", "a": 8.9, "h": 297}]},
          "mark": {"type": "text", "font": "Liberation Sans", "fontSize": 22, "color": "#999999", "align": "left", "baseline": "alphabetic"},
          "encoding": {"x": {"field": "a", "type": "quantitative"}, "y": {"field": "h", "type": "quantitative", "axis": null}, "text": {"field": "t"}}
        },
        {
          "data": {"values": [{"a": 6.2, "h": 607}]},
          "mark": {"type": "point", "filled": true, "color": "#f8c66f", "opacity": 1, "size": 45, "shape": "M-1,1 L-.6,-.4 L1,-1 L.8,.4 Z"},
          "encoding": {"x": {"field": "a", "type": "quantitative"}, "y": {"field": "h", "type": "quantitative", "axis": null}}
        }
      ]
    }
  ]
}
